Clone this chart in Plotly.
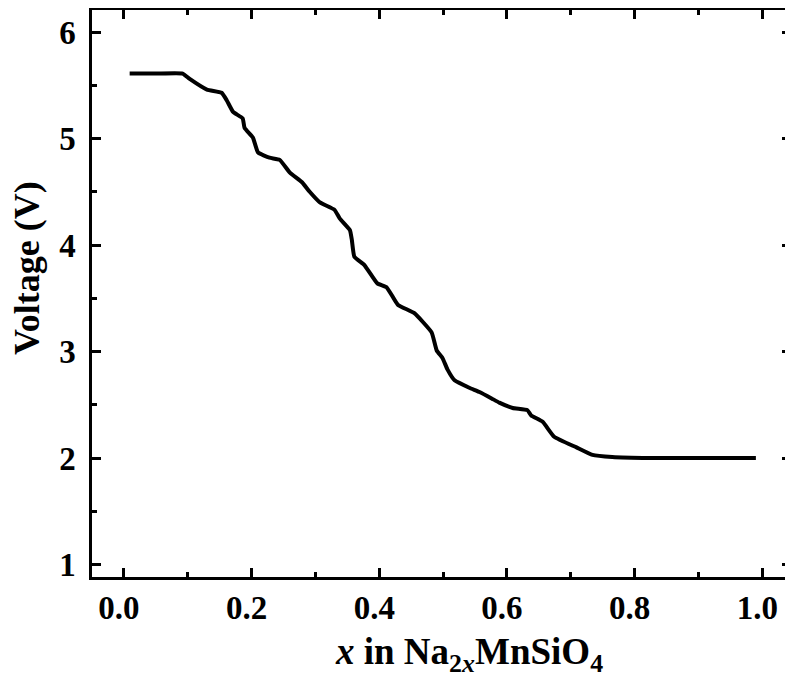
import plotly.graph_objects as go

x_vals = [0.009, 0.05, 0.092, 0.103, 0.130, 0.153, 0.161, 0.171, 0.186, 0.189, 0.202, 0.210,
          0.228, 0.244, 0.260, 0.279, 0.291, 0.307, 0.330, 0.338, 0.354, 0.357, 0.361,
          0.377, 0.397, 0.412, 0.429, 0.455, 0.482, 0.490, 0.499, 0.507, 0.518, 0.541,
          0.557, 0.576, 0.588, 0.609, 0.632, 0.638, 0.656, 0.674, 0.709, 0.734, 0.765,
          0.823, 0.90, 0.99]
voltage = [5.61, 5.61, 5.61, 5.56, 5.46, 5.43, 5.36, 5.25, 5.19, 5.10, 5.01, 4.87,
           4.82, 4.80, 4.68, 4.59, 4.50, 4.40, 4.33, 4.25, 4.14, 4.05, 3.89,
           3.81, 3.64, 3.60, 3.44, 3.36, 3.18, 3.01, 2.94, 2.83, 2.73, 2.66,
           2.62, 2.56, 2.52, 2.47, 2.45, 2.40, 2.34, 2.20, 2.10, 2.03, 2.01,
           2.00, 2.00, 2.00]

x_ticks = [0.0, 0.2, 0.4, 0.6, 0.8, 1.0]
x_tick_labels = ["0.0", "0.2", "0.4", "0.6", "0.8", "1.0"]
y_ticks = [1, 2, 3, 4, 5, 6]
x_title = "<b><i>x</i> in Na<sub>2<i>x</i></sub>MnSiO<sub>4</sub></b>"
y_title = "<b>Voltage (V)</b>"

font_family = "'Liberation Serif', 'Times New Roman', serif"

fig = go.Figure()
fig.add_trace(go.Scatter(x=x_vals, y=voltage, mode="lines",
                         line=dict(color="black", width=4, shape="spline", smoothing=0.4),
                         showlegend=False))

axis_common = dict(
    showline=True, linecolor="black", linewidth=2.5, mirror="ticks",
    ticks="inside", ticklen=9, tickwidth=2.5, tickcolor="black",
    showgrid=False, zeroline=False, automargin=False,
    tickfont=dict(family=font_family, size=33, color="black", weight="bold"),
)

fig.update_xaxes(range=[-0.05, 1.045], tickvals=x_ticks, ticktext=x_tick_labels,
                 ticklabelshift=-5,
                 minor=dict(ticks="inside", ticklen=5, tickwidth=2.5, tickcolor="black", dtick=0.1, tick0=0),
                 **axis_common)
fig.update_yaxes(range=[0.883, 6.207], tickvals=y_ticks, ticklabelstandoff=7,
                 minor=dict(ticks="inside", ticklen=5, tickwidth=2.5, tickcolor="black", dtick=0.5, tick0=0),
                 **axis_common)

fig.add_annotation(text=x_title, xref="paper", yref="paper", x=0.539, y=-0.136,
                   xanchor="center", yanchor="middle", showarrow=False,
                   font=dict(family=font_family, size=37, color="black"))
fig.add_annotation(text=y_title, xref="paper", yref="paper", x=-0.093, y=0.545,
                   xanchor="center", yanchor="middle", showarrow=False, textangle=-90,
                   borderpad=0,
                   font=dict(family=font_family, size=36, color="black"))

# page body has an 8px margin, so the figure is sized/offset to compensate
fig.update_layout(
    width=785, height=669,
    margin=dict(l=84, r=2, t=2, b=100),
    paper_bgcolor="white", plot_bgcolor="white",
)

fig.write_html("out.html")
